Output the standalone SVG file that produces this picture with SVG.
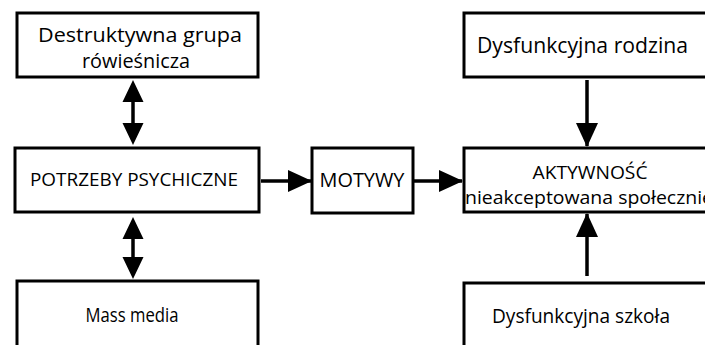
<svg xmlns="http://www.w3.org/2000/svg" width="705" height="345" viewBox="0 0 705 345">
<style>
.box{fill:#fff;stroke:#000;stroke-width:3}
.t{font-family:"Open Sans","Noto Sans",sans-serif;fill:#000}
.c{text-anchor:middle}
.ln{stroke:#000;stroke-width:3.5;fill:none}
</style>
<defs>
<marker id="ah" markerUnits="userSpaceOnUse" markerWidth="24" markerHeight="22" refX="23" refY="11" orient="auto-start-reverse" viewBox="0 0 24 22">
<path d="M0,0 L24,11 L0,22 Z" fill="#000"/>
</marker>
</defs>
<rect width="705" height="345" fill="#fff"/>
<g id="connectors">
<line class="ln" x1="133" y1="102" x2="133" y2="123"/>
<path d="M133,80 L122.5,102 L143.5,102 Z M133,145 L122.5,123 L143.5,123 Z" fill="#000"/>
<line class="ln" x1="133" y1="238" x2="133" y2="258"/>
<path d="M133,217 L122.5,239 L143.5,239 Z M133,279 L122.5,257 L143.5,257 Z" fill="#000"/>
<line class="ln" x1="261" y1="181" x2="311" y2="181" marker-end="url(#ah)"/>
<line class="ln" x1="414" y1="181" x2="462" y2="181" marker-end="url(#ah)"/>
<line class="ln" x1="587" y1="80" x2="587" y2="146" marker-end="url(#ah)"/>
<line class="ln" x1="587" y1="276" x2="587" y2="214" marker-end="url(#ah)"/>
</g>
<g id="n1">
<rect class="box" x="17" y="13" width="241" height="64"/>
<text class="t c" x="140" y="42" font-size="20" textLength="204" lengthAdjust="spacingAndGlyphs">Destruktywna grupa</text>
<text class="t c" x="136" y="68" font-size="20" textLength="108" lengthAdjust="spacingAndGlyphs">rówieśnicza</text>
</g>
<g id="n2">
<rect class="box" x="15" y="148" width="244" height="64"/>
<text class="t c" x="134" y="186" font-size="18.5" textLength="208" lengthAdjust="spacingAndGlyphs">POTRZEBY PSYCHICZNE</text>
</g>
<g id="n3">
<rect class="box" x="312" y="148" width="101" height="65"/>
<text class="t c" x="362" y="187" font-size="19.5" textLength="85" lengthAdjust="spacingAndGlyphs">MOTYWY</text>
</g>
<g id="n4">
<rect class="box" x="464" y="148" width="260" height="64"/>
<text class="t c" x="590" y="179" font-size="18" textLength="115" lengthAdjust="spacingAndGlyphs">AKTYWNOŚĆ</text>
<text class="t" x="465" y="204" font-size="19" textLength="248" lengthAdjust="spacingAndGlyphs">nieakceptowana społecznie</text>
</g>
<g id="n5">
<rect class="box" x="464" y="13" width="260" height="64"/>
<text class="t" x="477" y="53" font-size="21" textLength="211" lengthAdjust="spacingAndGlyphs">Dysfunkcyjna rodzina</text>
</g>
<g id="n6">
<rect class="box" x="17" y="281" width="241" height="80"/>
<text class="t c" x="132" y="322" font-size="20" textLength="93" lengthAdjust="spacingAndGlyphs">Mass media</text>
</g>
<g id="n7">
<rect class="box" x="464" y="283" width="260" height="80"/>
<text class="t" x="492" y="323" font-size="20" textLength="178" lengthAdjust="spacingAndGlyphs">Dysfunkcyjna szkoła</text>
</g>
</svg>
